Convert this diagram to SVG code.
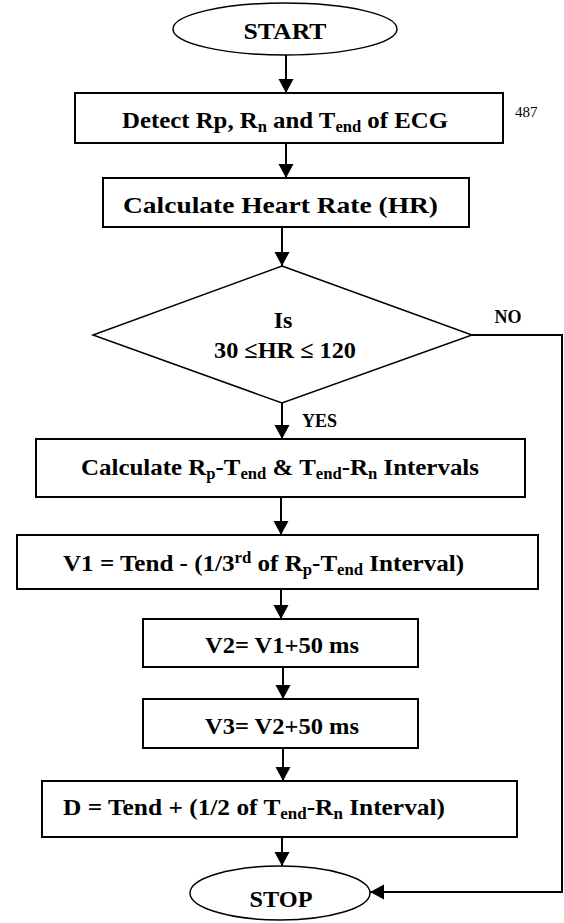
<svg xmlns="http://www.w3.org/2000/svg" width="564" height="923" viewBox="0 0 564 923">
<style>
.t{font-weight:bold;font-size:24px;fill:#000}
.sub{font-size:16px}
.box{fill:#fff;stroke:#000;stroke-width:2}
.dia{fill:#fff;stroke:#000;stroke-width:1.5}
.ell{fill:#fff;stroke:#000;stroke-width:1.5}
.c{fill:none;stroke:#000;stroke-width:2}
.lbl{font-weight:bold;font-size:18px}
.pg{font-weight:normal;font-size:15px}
</style>
<defs>
<marker id="ah" markerUnits="userSpaceOnUse" markerWidth="16" markerHeight="16" refX="14" refY="7.5" orient="auto">
<path d="M0,0 L14,7.5 L0,15 Z" fill="#000"/>
</marker>
</defs>
<rect width="564" height="923" fill="#fff"/>
<g font-family="Liberation Serif, DejaVu Serif, serif">
<g id="connectors">
<line class="c" x1="286" y1="55" x2="286" y2="93" marker-end="url(#ah)"/>
<line class="c" x1="286" y1="143" x2="286" y2="178" marker-end="url(#ah)"/>
<line class="c" x1="282" y1="227" x2="282" y2="266" marker-end="url(#ah)"/>
<line class="c" x1="282" y1="403" x2="282" y2="439" marker-end="url(#ah)"/>
<line class="c" x1="281" y1="497" x2="281" y2="535" marker-end="url(#ah)"/>
<line class="c" x1="281" y1="589" x2="281" y2="619" marker-end="url(#ah)"/>
<line class="c" x1="283" y1="667" x2="283" y2="699" marker-end="url(#ah)"/>
<line class="c" x1="283" y1="748" x2="283" y2="781" marker-end="url(#ah)"/>
<line class="c" x1="282" y1="837" x2="282" y2="866" marker-end="url(#ah)"/>
<path class="c" d="M472,335 H562 V892 H370" marker-end="url(#ah)"/>
<text class="lbl" x="508" y="323" text-anchor="middle">NO</text>
<text class="lbl" x="302" y="427">YES</text>
</g>
<g id="start">
<ellipse class="ell" cx="285" cy="29" rx="112" ry="26"/>
<text class="t" x="285" y="39" text-anchor="middle" textLength="83" lengthAdjust="spacingAndGlyphs">START</text>
</g>
<g id="detect">
<rect class="box" x="75" y="93" width="428" height="50"/>
<text class="t" x="122" y="128" textLength="326" lengthAdjust="spacingAndGlyphs">Detect Rp, R<tspan class="sub" dy="4">n</tspan><tspan dy="-4"> and T</tspan><tspan class="sub" dy="4">end</tspan><tspan dy="-4"> of ECG</tspan></text>
</g>
<text class="pg" x="515" y="117">487</text>
<g id="heart-rate">
<rect class="box" x="103" y="178" width="366" height="49"/>
<text class="t" x="123" y="213" textLength="315" lengthAdjust="spacingAndGlyphs">Calculate Heart Rate (HR)</text>
</g>
<g id="decision">
<polygon class="dia" points="282,266 472,335 282,403 93,335"/>
<text class="t" x="283" y="328" text-anchor="middle">Is</text>
<text class="t" x="214" y="358" textLength="142" lengthAdjust="spacingAndGlyphs">30 ≤HR ≤ 120</text>
</g>
<g id="intervals">
<rect class="box" x="36" y="439" width="489" height="58"/>
<text class="t" x="81" y="475" textLength="398" lengthAdjust="spacingAndGlyphs">Calculate R<tspan class="sub" dy="4">p</tspan><tspan dy="-4">-T</tspan><tspan class="sub" dy="4">end</tspan><tspan dy="-4"> &amp; T</tspan><tspan class="sub" dy="4">end</tspan><tspan dy="-4">-R</tspan><tspan class="sub" dy="4">n</tspan><tspan dy="-4"> Intervals</tspan></text>
</g>
<g id="v1">
<rect class="box" x="17" y="535" width="521" height="54"/>
<text class="t" x="63" y="571" textLength="401" lengthAdjust="spacingAndGlyphs">V1 = Tend - (1/3<tspan class="sub" dy="-8">rd</tspan><tspan dy="8"> of R</tspan><tspan class="sub" dy="4">p</tspan><tspan dy="-4">-T</tspan><tspan class="sub" dy="4">end</tspan><tspan dy="-4"> Interval)</tspan></text>
</g>
<g id="v2">
<rect class="box" x="143" y="619" width="275" height="48"/>
<text class="t" x="205" y="653" textLength="154" lengthAdjust="spacingAndGlyphs">V2= V1+50 ms</text>
</g>
<g id="v3">
<rect class="box" x="143" y="699" width="275" height="49"/>
<text class="t" x="205" y="734" textLength="154" lengthAdjust="spacingAndGlyphs">V3= V2+50 ms</text>
</g>
<g id="d">
<rect class="box" x="42" y="781" width="475" height="56"/>
<text class="t" x="63" y="815" textLength="382" lengthAdjust="spacingAndGlyphs">D = Tend + (1/2 of T<tspan class="sub" dy="4">end</tspan><tspan dy="-4">-R</tspan><tspan class="sub" dy="4">n</tspan><tspan dy="-4"> Interval)</tspan></text>
</g>
<g id="stop">
<ellipse class="ell" cx="280" cy="893" rx="90" ry="27"/>
<text class="t" x="281" y="907" text-anchor="middle" textLength="63" lengthAdjust="spacingAndGlyphs">STOP</text>
</g>
</g>
</svg>
